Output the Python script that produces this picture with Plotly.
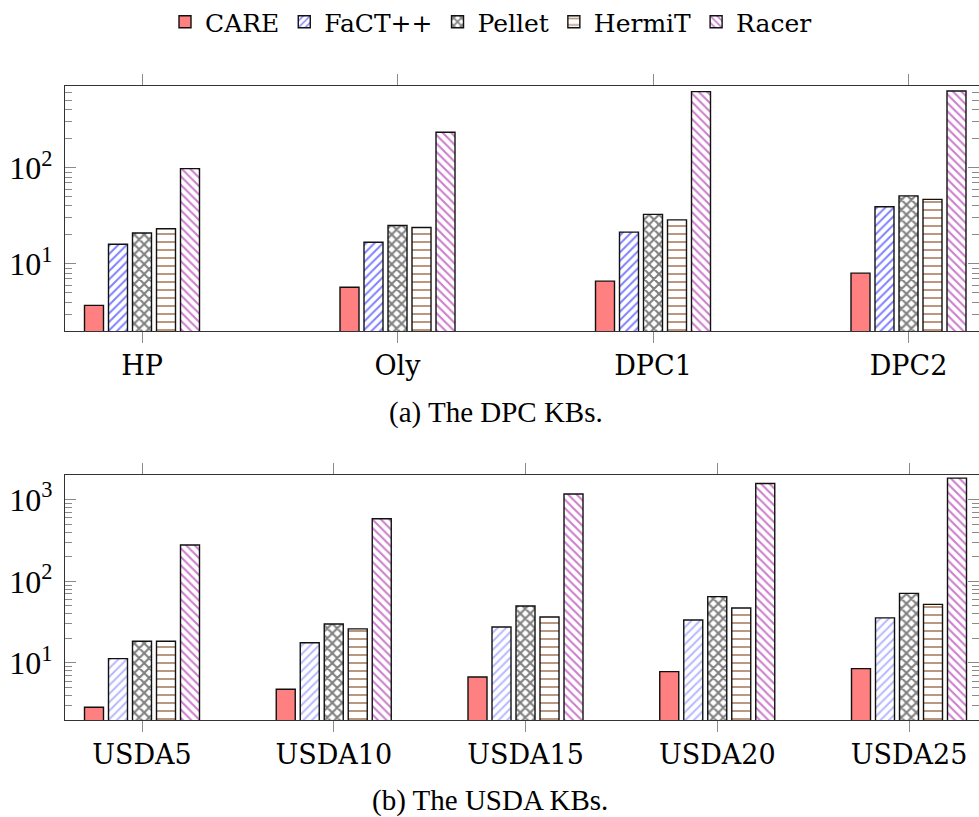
import math
import plotly.graph_objects as go

series = ["CARE", "FaCT++", "Pellet", "HermiT", "Racer"]

dpc_categories = ["HP", "Oly", "DPC1", "DPC2"]
dpc_care = [3.7, 5.7, 6.6, 8.0]
dpc_fact = [16.0, 16.8, 21.4, 39.3]
dpc_pellet = [20.9, 25.1, 32.7, 51.0]
dpc_hermit = [23.2, 23.9, 28.7, 46.9]
dpc_racer = [98, 234, 620, 630]

usda_categories = ["USDA5", "USDA10", "USDA15", "USDA20", "USDA25"]
usda_care = [2.87, 4.76, 6.74, 7.83, 8.52]
usda_fact = [11.3, 17.7, 27.6, 33.6, 35.6]
usda_pellet = [18.4, 30.0, 49.9, 64.9, 71.1]
usda_hermit = [18.4, 26.1, 36.5, 47.1, 52.1]
usda_racer = [278, 584, 1172, 1578, 1837]

dpc_tick_labels = ["10<sup>1</sup>", "10<sup>2</sup>"]
usda_tick_labels = ["10<sup>1</sup>", "10<sup>2</sup>", "10<sup>3</sup>"]

FONT = "Liberation Serif"
XFONT = "DejaVu Serif"
W, H = 979, 817
L = 65

top_y0, top_y1 = 86, 331
bot_y0, bot_y1 = 475, 720
bar_px, step_px = 19, 24
first_center_px = 142


def styles(light_blue):
    return [
        dict(color="#ff8080", pattern=None),
        dict(color="white", pattern=dict(shape="/", fgcolor="#7070ff" if light_blue else "#0000ff",
                                          bgcolor="white", size=6, solidity=0.32, fillmode="overlay")),
        dict(color="white", pattern=dict(shape="x", fgcolor="black", bgcolor="white",
                                          size=7, solidity=0.5, fillmode="overlay")),
        dict(color="white", pattern=dict(shape="-", fgcolor="#7a3000", bgcolor="white",
                                          size=8, solidity=0.25, fillmode="overlay")),
        dict(color="white", pattern=dict(shape="\\", fgcolor="#990099", bgcolor="white",
                                          size=6, solidity=0.35, fillmode="overlay")),
    ]


fig = go.Figure()


def add_group(cats, values, xa, ya, unit_px, light_blue, showlegend):
    st = styles(light_blue)
    for i, (name, vals) in enumerate(zip(series, values)):
        off = ((i - 2) * step_px - bar_px / 2) / unit_px
        marker = dict(color=st[i]["color"], line=dict(color="#111111", width=1.4))
        if st[i]["pattern"] is not None:
            marker["pattern"] = st[i]["pattern"]
        fig.add_trace(go.Bar(
            x=cats, y=vals, name=name, xaxis=xa, yaxis=ya,
            width=bar_px / unit_px, offset=off, marker=marker,
            showlegend=showlegend,
        ))


top_unit = 255.5
bot_unit = 191.75

add_group(dpc_categories, [dpc_care, dpc_fact, dpc_pellet, dpc_hermit, dpc_racer],
          "x", "y", top_unit, False, True)
add_group(usda_categories, [usda_care, usda_fact, usda_pellet, usda_hermit, usda_racer],
          "x2", "y2", bot_unit, True, False)


def xrange_for(unit):
    lo = -(first_center_px - L) / unit
    hi = (W - first_center_px) / unit
    return [lo, hi]


def dom(y0, y1):
    return [(H - y1) / H, (H - y0) / H]


top_range = [math.log10(2), math.log10(709)]
bot_range = [math.log10(2), math.log10(2005)]

minor_top = [m * 10 ** d for d in range(0, 3) for m in range(2, 10) if 2 < m * 10 ** d < 709]
minor_bot = [m * 10 ** d for d in range(0, 4) for m in range(2, 10) if 2 < m * 10 ** d < 2005]

axis_line = "#333333"
tick_col = "#8a8a8a"

xcommon = dict(
    type="category", showgrid=False, zeroline=False, automargin=False,
    showline=True, linecolor=axis_line, linewidth=1.3, mirror="ticks",
    ticks="outside", ticklen=11, tickcolor=tick_col, tickwidth=1,
    tickfont=dict(family=XFONT, size=27, color="black"),
    ticklabelstandoff=-1,
)

ycommon = dict(
    type="log", showgrid=False, zeroline=False, automargin=False,
    showline=True, linecolor=axis_line, linewidth=1.3, mirror=False,
    ticks="inside", ticklen=11, tickcolor=tick_col, tickwidth=1,
    tickfont=dict(family=FONT, size=32, color="black"),
    ticklabelstandoff=5,
)

fig.update_layout(
    width=W, height=H,
    margin=dict(l=L, r=0, t=0, b=0, autoexpand=False),
    paper_bgcolor="white", plot_bgcolor="white",
    barmode="group",
    xaxis=dict(xcommon, domain=[0, 1], anchor="y", range=xrange_for(top_unit)),
    yaxis=dict(ycommon, domain=dom(top_y0, top_y1), anchor="x", range=top_range,
               tickmode="array", tickvals=[10, 100], ticktext=dpc_tick_labels,
               minor=dict(tickmode="array", tickvals=minor_top, ticks="inside", ticklen=7,
                          tickcolor=tick_col, tickwidth=1)),
    xaxis2=dict(xcommon, domain=[0, 1], anchor="y2", range=xrange_for(bot_unit)),
    yaxis2=dict(ycommon, domain=dom(bot_y0, bot_y1), anchor="x2", range=bot_range,
                tickmode="array", tickvals=[10, 100, 1000], ticktext=usda_tick_labels,
                minor=dict(tickmode="array", tickvals=minor_bot, ticks="inside", ticklen=7,
                           tickcolor=tick_col, tickwidth=1)),
    yaxis3=dict(type="log", overlaying="y", side="right", anchor="x", range=top_range,
                showgrid=False, zeroline=False, showline=False, showticklabels=False,
                automargin=False,
                ticks="inside", ticklen=11, tickcolor=tick_col, tickwidth=1,
                tickmode="array", tickvals=[10, 100],
                minor=dict(tickmode="array", tickvals=minor_top, ticks="inside", ticklen=7,
                           tickcolor=tick_col, tickwidth=1)),
    yaxis4=dict(type="log", overlaying="y2", side="right", anchor="x2", range=bot_range,
                showgrid=False, zeroline=False, showline=False, showticklabels=False,
                automargin=False,
                ticks="inside", ticklen=11, tickcolor=tick_col, tickwidth=1,
                tickmode="array", tickvals=[10, 100, 1000],
                minor=dict(tickmode="array", tickvals=minor_bot, ticks="inside", ticklen=7,
                           tickcolor=tick_col, tickwidth=1)),
    legend=dict(
        orientation="h", xref="container", yref="container",
        x=491 / W, xanchor="center", y=1 - 22 / H, yanchor="middle",
        font=dict(family=XFONT, size=25, color="black"),
        itemwidth=30, tracegroupgap=0, bgcolor="rgba(0,0,0,0)",
    ),
    annotations=[
        dict(text="(a) The DPC KBs.", xref="paper", yref="paper",
             x=(496 - L) / (W - L), y=(H - 413) / H, showarrow=False,
             xanchor="center", yanchor="middle",
             font=dict(family=FONT, size=29, color="black")),
        dict(text="(b) The USDA KBs.", xref="paper", yref="paper",
             x=(490 - L) / (W - L), y=(H - 800) / H, showarrow=False,
             xanchor="center", yanchor="middle",
             font=dict(family=FONT, size=29, color="black")),
    ],
)

fig.add_trace(go.Scatter(x=[dpc_categories[0]], y=[10], xaxis="x", yaxis="y3",
                         mode="markers", marker=dict(opacity=0), showlegend=False, hoverinfo="skip"))
fig.add_trace(go.Scatter(x=[usda_categories[0]], y=[10], xaxis="x2", yaxis="y4",
                         mode="markers", marker=dict(opacity=0), showlegend=False, hoverinfo="skip"))

fig.write_html("out.html")
